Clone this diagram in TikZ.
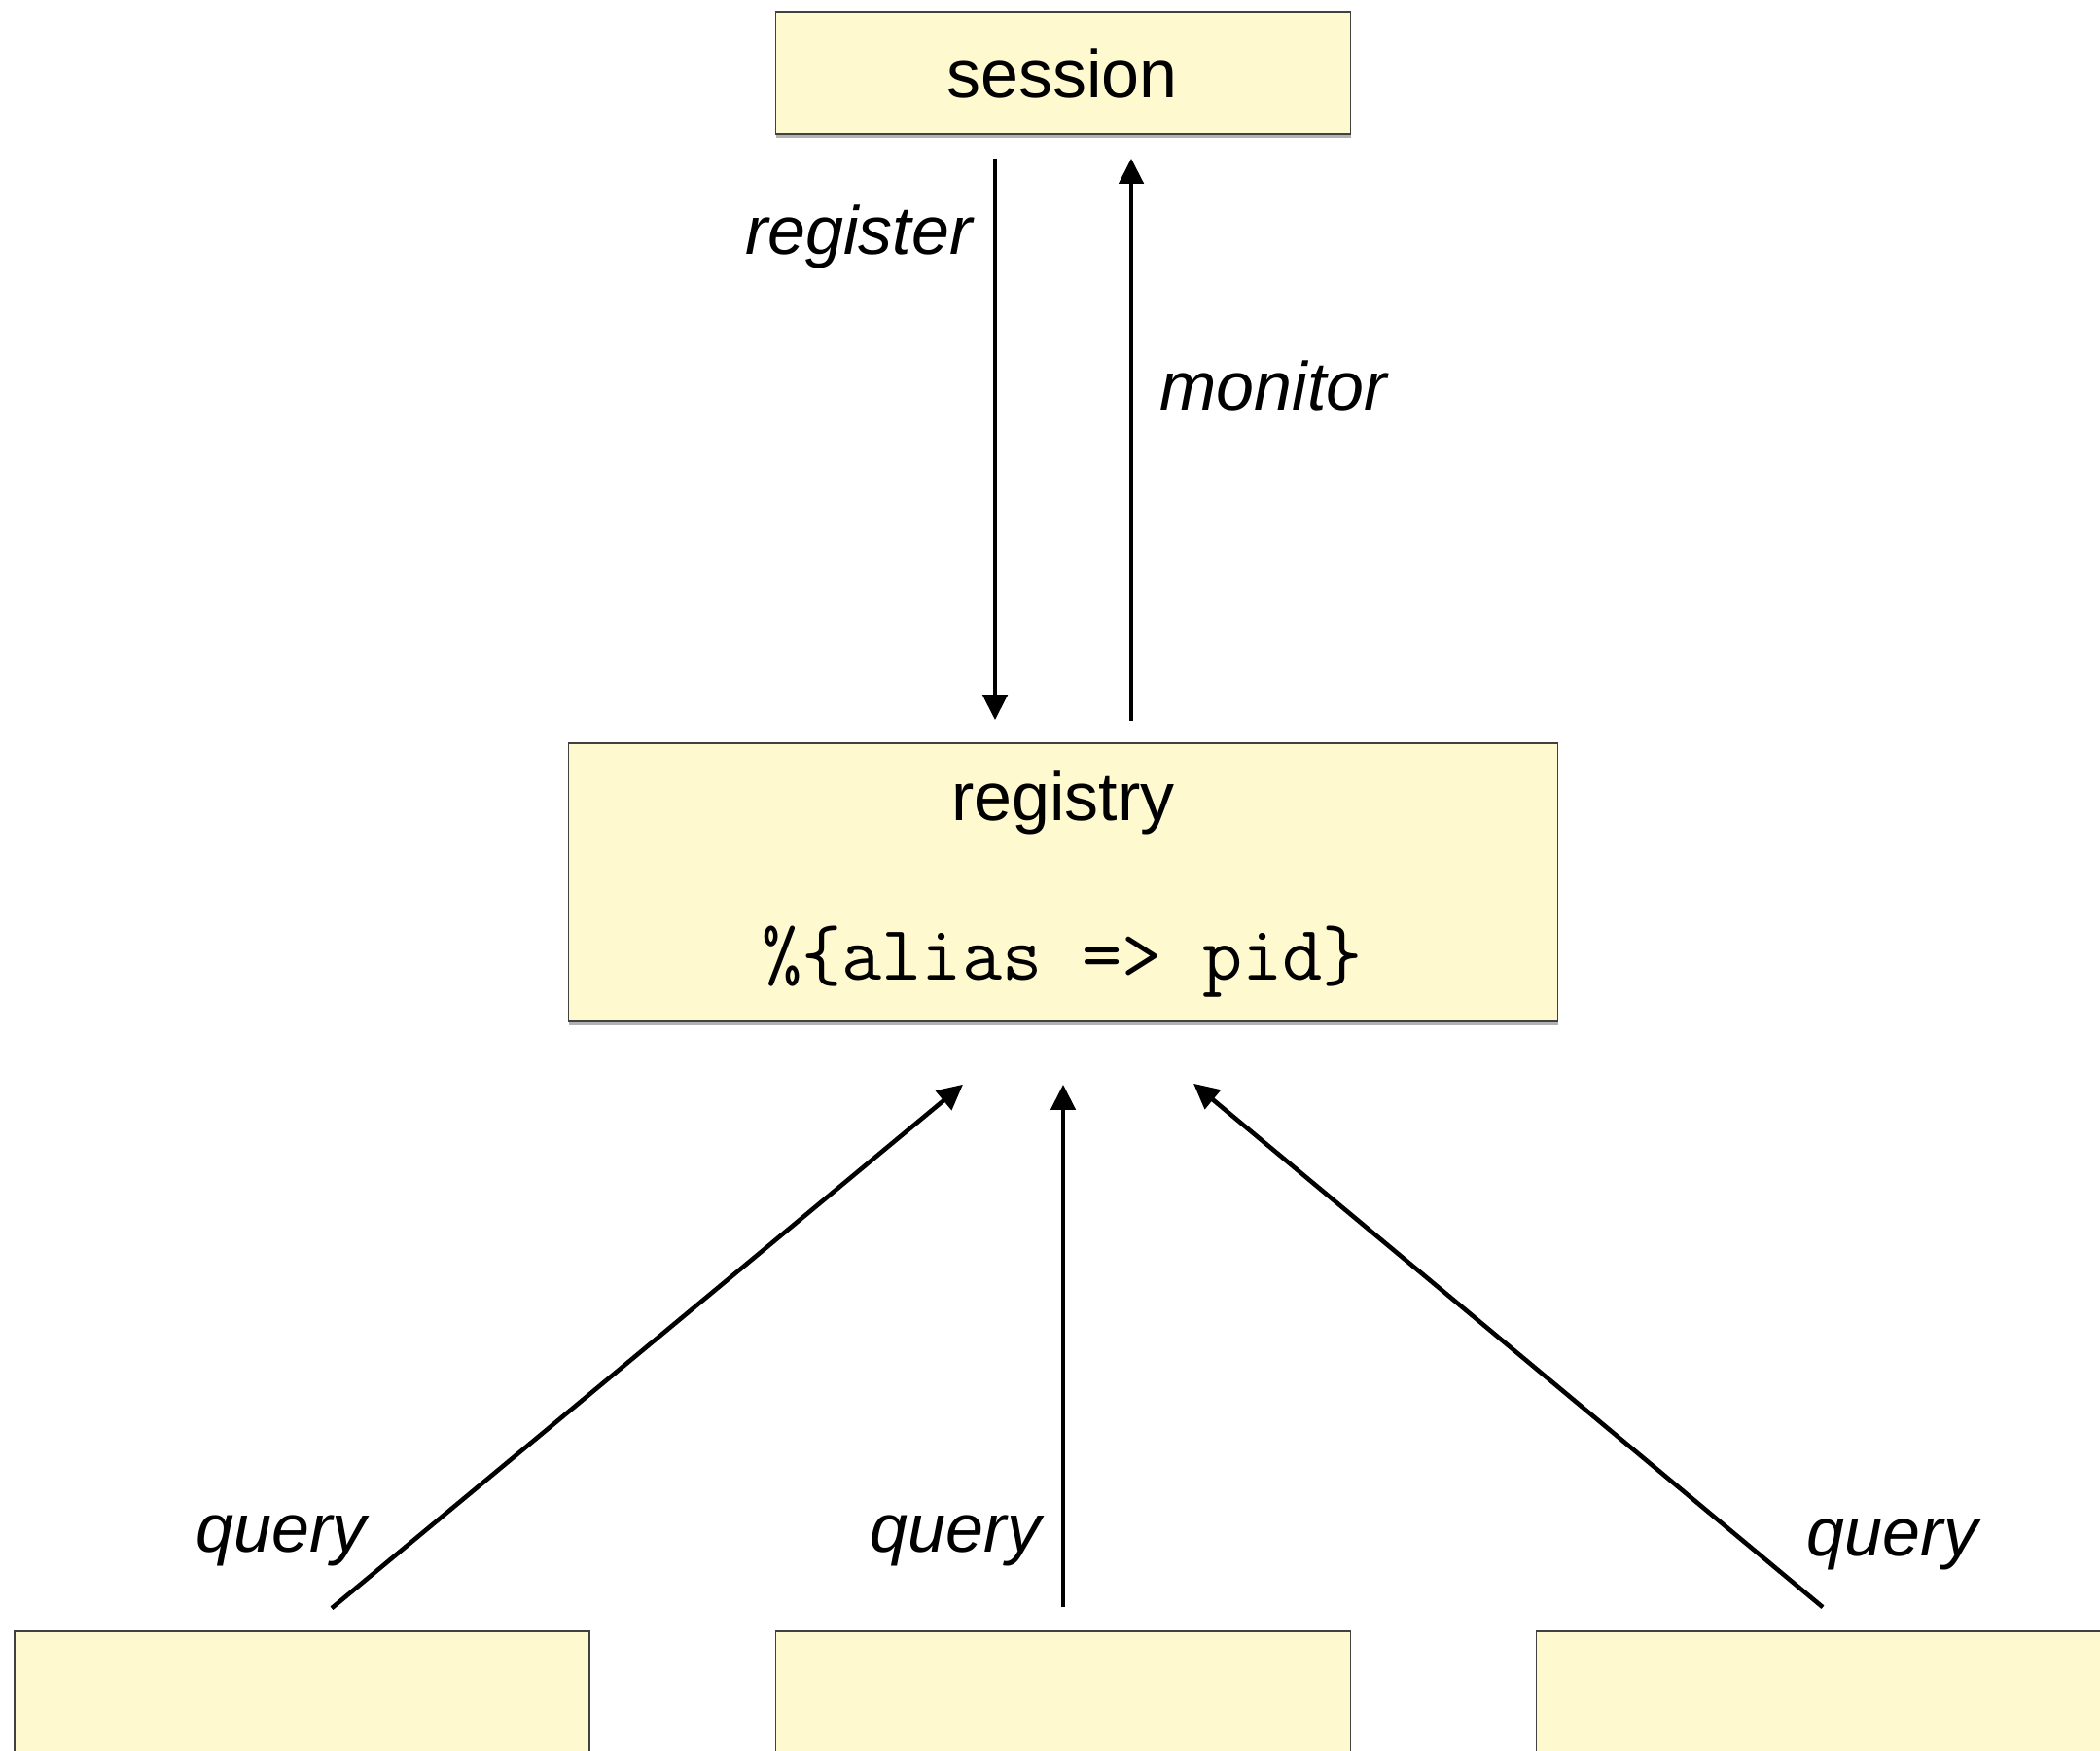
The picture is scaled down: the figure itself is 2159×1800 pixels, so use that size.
\documentclass[tikz,border=0pt]{standalone}
\usepackage{fontspec}
\setmainfont{Liberation Sans}
\usetikzlibrary{arrows.meta,shadows,calc}
\definecolor{notefill}{RGB}{255,249,208}
\definecolor{noteedge}{RGB}{65,65,65}
\begin{document}
\begin{tikzpicture}[x=0.5pt,y=-0.5pt,
  box/.style={draw=noteedge, line width=0.8pt, fill=notefill, inner sep=0pt,
    drop shadow={shadow xshift=0pt, shadow yshift=-2pt, opacity=0.3, fill=black}},
  conn/.style={line width=2.3pt, -{Triangle[width=12.5pt,length=13pt]}},
  lbl/.style={font=\fontsize{35}{42}\selectfont\itshape, anchor=base, inner sep=0pt},
  title/.style={font=\fontsize{35}{42}\selectfont, anchor=base, inner sep=0pt},
  code/.style={font=\fontsize{40}{48}\selectfont\ttfamily, anchor=base, inner sep=0pt}]
\useasboundingbox (0,0) rectangle (2159,1800);
\clip (0,0) rectangle (2159,1800);

% boxes
\node[box, minimum width=295.5pt, minimum height=63pt] (session) at (1093,75) {};
\node[title] (sessionname) at (1092,100) {session};

\node[box, minimum width=508.5pt, minimum height=143pt] (registry) at (1093,907) {};
\node[title] (regname) at (1093,843) {registry};
\node[code] (regmap) at (1092,1007) {\%\{alias => pid\}};

\node[box, minimum width=295.5pt, minimum height=63pt] (client1) at (310.5,1740) {};
\node[box, minimum width=295.5pt, minimum height=63pt] (client2) at (1093,1740) {};
\node[box, minimum width=295.5pt, minimum height=63pt] (client3) at (1875,1740) {};

% session <-> registry
\draw[conn] ($(session.south)+(-70,24)$) -- ($(registry.north)+(-70,-23)$);
\draw[conn] ($(registry.north)+(70,-22)$) -- ($(session.south)+(70,24)$);
\node[lbl, anchor=base east] (lblregister) at (1000,261) {register};
\node[lbl, anchor=base west] (lblmonitor) at (1192,421) {monitor};

% clients query the registry
\draw[conn] ($(client1.north)+(30.5,-23)$) -- ($(registry.south)+(-103,64)$);
\draw[conn] ($(client2.north)+(0,-24)$) -- ($(registry.south)+(0,64)$);
\draw[conn] ($(client3.north)+(-1,-24)$) -- ($(registry.south)+(134,63)$);
\node[lbl] (lblquery1) at (289,1595) {query};
\node[lbl] (lblquery2) at (982.5,1595) {query};
\node[lbl] (lblquery3) at (1945.5,1599) {query};
\end{tikzpicture}
\end{document}
